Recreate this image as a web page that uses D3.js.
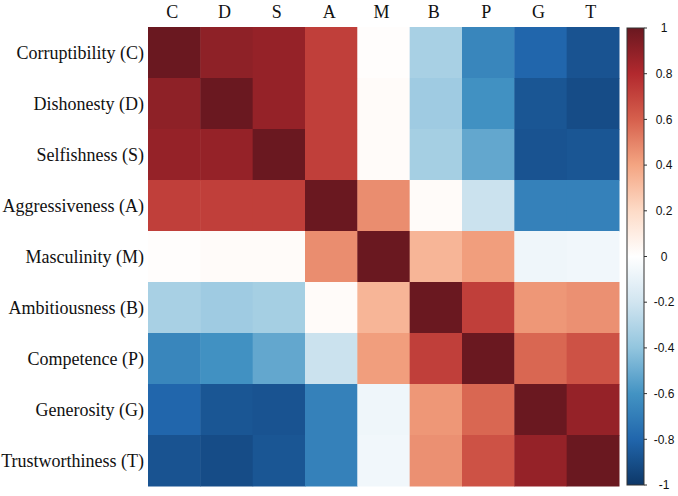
<!DOCTYPE html>
<html><head><meta charset="utf-8">
<script src="https://cdn.jsdelivr.net/npm/d3@7"></script>
<style>body{margin:0;background:#fff}svg{display:block}</style>
</head><body>
<svg id="c" width="678" height="496"></svg>
<script>
const rowLabels = ["Corruptibility (C)","Dishonesty (D)","Selfishness (S)","Aggressiveness (A)","Masculinity (M)","Ambitiousness (B)","Competence (P)","Generosity (G)","Trustworthiness (T)"];
const colLabels = ["C","D","S","A","M","B","P","G","T"];
const values = [
  [1.00, 0.90, 0.88, 0.72, 0.01, -0.33, -0.66, -0.80, -0.88],
  [0.90, 1.00, 0.88, 0.72, 0.02, -0.36, -0.61, -0.87, -0.91],
  [0.88, 0.88, 1.00, 0.72, 0.02, -0.34, -0.52, -0.88, -0.87],
  [0.72, 0.72, 0.72, 1.00, 0.47, 0.02, -0.22, -0.68, -0.68],
  [0.01, 0.02, 0.02, 0.47, 1.00, 0.34, 0.42, -0.07, -0.06],
  [-0.33, -0.36, -0.34, 0.02, 0.34, 1.00, 0.72, 0.44, 0.46],
  [-0.66, -0.61, -0.52, -0.22, 0.42, 0.72, 1.00, 0.58, 0.65],
  [-0.80, -0.87, -0.88, -0.68, -0.07, 0.44, 0.58, 1.00, 0.88],
  [-0.88, -0.91, -0.87, -0.68, -0.06, 0.46, 0.65, 0.88, 1.00]
];
const cbTicks = [1, 0.8, 0.6, 0.4, 0.2, 0, -0.2, -0.4, -0.6, -0.8, -1];
const colorStops = [1, 0.8, 0.6, 0.4, 0.2, 0, -0.2, -0.4, -0.6, -0.8, -1];
const colorValues = ["#6a1820","#b2292e","#d6604d","#f4a582","#fddbc7","#ffffff","#d1e5f0","#92c5de","#4393c3","#2166ac","#0d3768"];

const svg = d3.select("#c");
const x = d3.scaleBand().domain(colLabels).range([148, 619]);
const y = d3.scaleBand().domain(rowLabels).range([27, 486]);
const color = d3.scaleLinear().domain(colorStops).range(colorValues).interpolate(d3.interpolateRgb).clamp(true);

const cells = [];
values.forEach((row, i) => row.forEach((v, j) => cells.push({r: rowLabels[i], c: colLabels[j], v})));
svg.append("g").selectAll("rect").data(cells).join("rect")
  .attr("x", d => x(d.c)).attr("y", d => y(d.r))
  .attr("width", x.bandwidth() + 0.5).attr("height", y.bandwidth() + 0.5)
  .attr("fill", d => color(d.v));

svg.append("g").selectAll("text").data(rowLabels).join("text")
  .attr("x", 144).attr("y", d => y(d) + y.bandwidth() / 2)
  .attr("dy", "0.35em").attr("text-anchor", "end")
  .attr("font-family", "'Liberation Serif', 'Times New Roman', serif")
  .attr("font-size", 18).attr("fill", "#111").text(d => d);

svg.append("g").selectAll("text").data(colLabels).join("text")
  .attr("x", d => x(d) + x.bandwidth() / 2 - 2).attr("y", 18)
  .attr("text-anchor", "middle")
  .attr("font-family", "'Liberation Serif', 'Times New Roman', serif")
  .attr("font-size", 18).attr("fill", "#111").text(d => d);

// colorbar
const cb = {x: 627, w: 17, top: 28, bottom: 485};
const cy = d3.scaleLinear().domain([-1, 1]).range([cb.bottom, cb.top]);
const defs = svg.append("defs");
const grad = defs.append("linearGradient").attr("id", "g").attr("x1", 0).attr("y1", 1).attr("x2", 0).attr("y2", 0);
d3.range(0, 1.0001, 0.05).forEach(t => {
  grad.append("stop").attr("offset", t).attr("stop-color", color(-1 + 2 * t));
});
svg.append("rect").attr("x", cb.x).attr("y", cb.top).attr("width", cb.w).attr("height", cb.bottom - cb.top)
  .attr("fill", "url(#g)").attr("stroke", "#333").attr("stroke-width", 1);
const tg = svg.append("g").selectAll("g").data(cbTicks).join("g")
  .attr("transform", d => `translate(0,${cy(d)})`);
tg.append("line").attr("x1", cb.x + cb.w).attr("x2", cb.x + cb.w + 3).attr("stroke", "#333");
tg.append("text").attr("x", 664).attr("dy", "0.35em").attr("text-anchor", "middle")
  .attr("font-family", "'Liberation Sans', Arial, sans-serif").attr("font-size", 12).attr("fill", "#111")
  .text(d => String(d));
</script>
</body></html>
